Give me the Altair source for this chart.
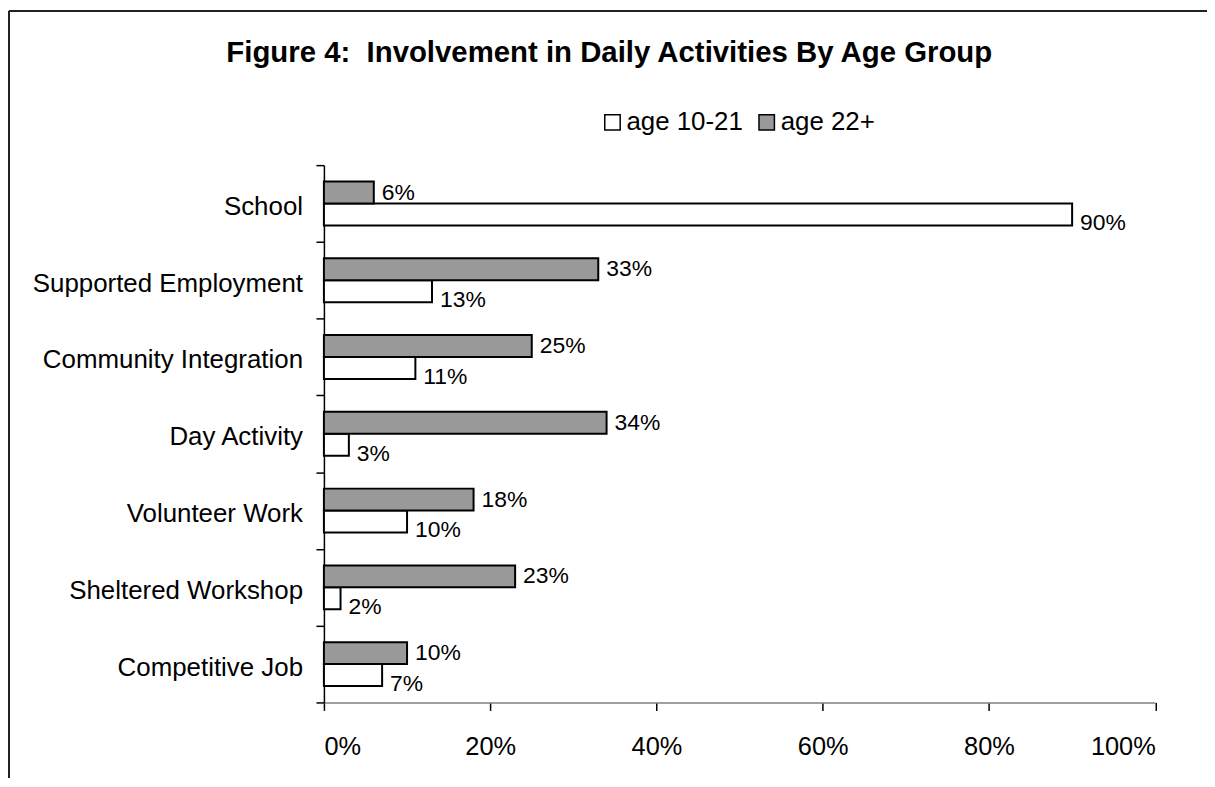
import altair as alt
import pandas as pd

categories = ["School", "Supported Employment", "Community Integration", "Day Activity",
              "Volunteer Work", "Sheltered Workshop", "Competitive Job"]
age_10_21 = [90, 13, 11, 3, 10, 2, 7]
age_22_plus = [6, 33, 25, 34, 18, 23, 10]
series_names = ["age 10-21", "age 22+"]
x_ticks = [0, 20, 40, 60, 80, 100]

rows = []
for c, a, b in zip(categories, age_10_21, age_22_plus):
    rows.append({"activity": c, "series": series_names[0], "pct": a, "label": f"{a}%"})
    rows.append({"activity": c, "series": series_names[1], "pct": b, "label": f"{b}%"})
df = pd.DataFrame(rows)

FONT = "Arial, Liberation Sans, sans-serif"
W, H = 835.5, 540

y_enc = alt.Y("activity:N", sort=categories, title=None,
              scale=alt.Scale(paddingInner=0, paddingOuter=0),
              axis=alt.Axis(tickBand="extent", labelFontSize=26, labelFont=FONT,
                            labelPadding=13.5, labelOffset=3, tickSize=8, domainColor="black",
                            tickColor="black", labelColor="black", labelLimit=400,
                            domainWidth=1.5, tickWidth=1.5))
x_enc = alt.X("pct:Q", scale=alt.Scale(domain=[0, 100]), title=None,
              axis=alt.Axis(values=x_ticks, labelExpr="datum.value + '%'", grid=False,
                            tickSize=8, labelPadding=24, labelFontSize=25.5, labelFont=FONT,
                            labelColor="black", domainColor="#808080", tickColor="black",
                            domainWidth=1.5, tickWidth=1.5))
yoff = alt.YOffset("series:N", sort=[series_names[1], series_names[0]],
                   scale=alt.Scale(paddingInner=0, paddingOuter=0.75))

base = alt.Chart(df)

bars = base.mark_bar(stroke="black", strokeWidth=2, cornerRadius=0).encode(
    x=x_enc, y=y_enc, yOffset=yoff,
    fill=alt.Fill("series:N", scale=alt.Scale(domain=series_names, range=["#ffffff", "#999999"]),
                  legend=alt.Legend(title=None, orient="none", direction="horizontal",
                                    legendX=277, legendY=-56, padding=0,
                                    symbolType="square", symbolSize=240,
                                    symbolStrokeColor="black", symbolStrokeWidth=1.5,
                                    labelFontSize=26, labelFont=FONT, labelColor="black",
                                    labelOffset=1, columnPadding=10, labelLimit=300)),
)

lab_gray = base.mark_text(align="left", baseline="middle", dx=8, dy=0, fontSize=23,
                          font=FONT, color="black").encode(
    x="pct:Q", y=alt.Y("activity:N", sort=categories), yOffset=yoff, text="label:N"
).transform_filter(alt.datum.series == series_names[1])

lab_white = base.mark_text(align="left", baseline="middle", dx=8, dy=9, fontSize=23,
                           font=FONT, color="black").encode(
    x="pct:Q", y=alt.Y("activity:N", sort=categories), yOffset=yoff, text="label:N"
).transform_filter(alt.datum.series == series_names[0])

frame_v = base.mark_rule(color="#222222", strokeWidth=2).encode(
    x=alt.value(-316.5), y=alt.value(-155), y2=alt.value(H + 300))
frame_h = base.mark_rule(color="#222222", strokeWidth=2).encode(
    x=alt.value(-316.5), x2=alt.value(W + 300), y=alt.value(-155))

chart = alt.layer(frame_v, frame_h, bars, lab_gray, lab_white).properties(
    width=W, height=H,
    title=alt.TitleParams("Figure 4:\u00a0 Involvement in Daily Activities By Age Group",
                          fontSize=29.5, fontWeight="bold", font=FONT, color="black",
                          anchor="middle", frame="group", dx=-131, offset=-59),
    autosize=alt.AutoSizeParams(type="none"),
    padding={"left": 317.5, "top": 156, "right": 52, "bottom": 74},
).configure_view(stroke=None).configure_axis(labelColor="black")

chart.save("out.html", embed_options={"renderer": "svg", "actions": False})
